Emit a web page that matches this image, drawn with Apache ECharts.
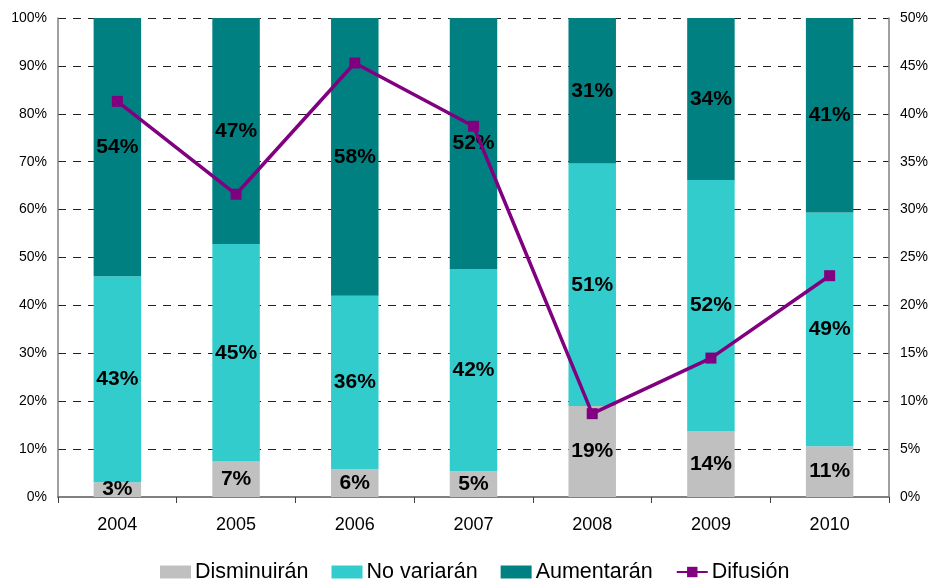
<!DOCTYPE html>
<html><head><meta charset="utf-8">
<script src="https://cdn.jsdelivr.net/npm/echarts@6/dist/echarts.min.js"></script>
<style>html,body{margin:0;padding:0;background:#fff}#c{width:932px;height:582px}</style>
</head><body><div id="c"></div>
<script>
const years = ['2004','2005','2006','2007','2008','2009','2010'];
const disminuiran = [3.1, 7.4, 5.8, 5.4, 19.0, 13.8, 10.6];
const noVariaran = [43.0, 45.4, 36.2, 42.2, 50.6, 52.4, 48.8];
const aumentaran = [53.9, 47.2, 58.0, 52.4, 30.5, 33.8, 40.6];
const difusion = [41.3, 31.6, 45.3, 38.7, 8.7, 14.5, 23.1];

const FONT = 'Liberation Sans, Arial, sans-serif';
const lbl = {show:true, position:'inside', color:'#000', fontWeight:'bold', fontSize:21, fontFamily:FONT,
  formatter: p => Math.round(p.value) + '%'};
const chart = echarts.init(document.getElementById('c'), null, {renderer:'canvas'});
chart.setOption({
  animation:false,
  textStyle:{fontFamily:FONT},
  grid:{left:58, right:43, top:18, bottom:85, containLabel:false},
  legend:{
    bottom:-6, left:155, itemWidth:31, itemHeight:13, itemGap:23,
    textStyle:{fontSize:21.5, color:'#000', fontFamily:FONT, padding:[0,0,0,-1]},
    data:[
      {name:'Disminuirán', icon:'rect'},
      {name:'No variarán', icon:'rect'},
      {name:'Aumentarán', icon:'rect'},
      {name:'Difusión'}
    ]
  },
  xAxis:{
    type:'category', data:years,
    axisLine:{lineStyle:{color:'#808080', width:2}},
    axisTick:{show:true, length:6, lineStyle:{color:'#404040'}},
    axisLabel:{color:'#000', fontSize:18, margin:19, fontFamily:FONT}
  },
  yAxis:[
    {type:'value', min:0, max:100, interval:10,
     axisLine:{show:true, lineStyle:{color:'#808080', width:1.5}},
     axisTick:{show:false},
     axisLabel:{formatter:'{value}%', color:'#000', fontSize:14, margin:11, fontFamily:FONT},
     splitLine:{show:true, lineStyle:{color:'#222', type:[8,7], width:1}}
    },
    {type:'value', min:0, max:50, interval:5,
     axisLine:{show:true, lineStyle:{color:'#808080', width:1.5}},
     axisTick:{show:false},
     axisLabel:{formatter:'{value}%', color:'#000', fontSize:14, margin:11, fontFamily:FONT},
     splitLine:{show:false}
    }
  ],
  series:[
    {name:'Disminuirán', type:'bar', stack:'s', data:disminuiran, barWidth:'40%',
     itemStyle:{color:'#C0C0C0'}, label:lbl},
    {name:'No variarán', type:'bar', stack:'s', data:noVariaran, barWidth:'40%',
     itemStyle:{color:'#33CCCC'}, label:lbl},
    {name:'Aumentarán', type:'bar', stack:'s', data:aumentaran, barWidth:'40%',
     itemStyle:{color:'#008080'}, label:lbl},
    {name:'Difusión', type:'line', yAxisIndex:1, data:difusion, z:5,
     symbol:'rect', symbolSize:11,
     lineStyle:{color:'#800080', width:3.5},
     itemStyle:{color:'#800080'}}
  ]
});
</script></body></html>
